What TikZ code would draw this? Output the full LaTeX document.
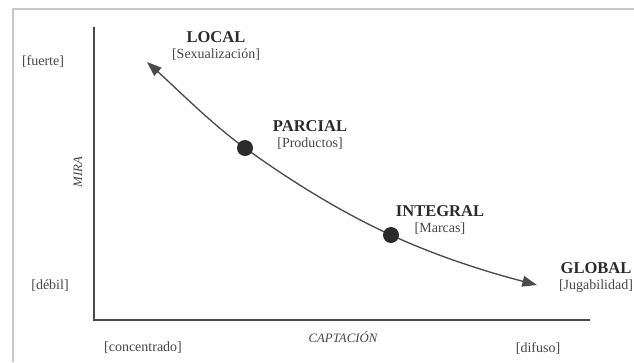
\documentclass[tikz,border=0pt]{standalone}
\usepackage{fontspec}
\setmainfont{Liberation Serif}
\usetikzlibrary{arrows.meta, positioning}
\definecolor{cdark}{HTML}{2B2B2B}
\definecolor{cline}{HTML}{4A4A4A}
\definecolor{ctext}{HTML}{454545}
\definecolor{cframe}{HTML}{C8C8C8}
\tikzset{
  every picture/.style={x=0.75pt, y=-0.75pt},
  lbl/.style={font=\fontsize{12.4}{14}\selectfont\bfseries, text=cdark, inner sep=1pt},
  sub/.style={font=\fontsize{10.5}{12}\selectfont, text=ctext, inner sep=1pt},
  axisname/.style={font=\fontsize{9.6}{11}\selectfont\itshape, text=ctext, inner sep=1pt},
  axis/.style={draw=cline, line width=1.8pt},
  curve/.style={{Triangle[length=11pt, width=8pt]}-{Triangle[length=11pt, width=8pt]}, draw=cline, line width=1pt},
  dot/.style={circle, fill=cdark, minimum size=12pt, inner sep=0pt},
}

\begin{document}
\begin{tikzpicture}
  \useasboundingbox (0,0) rectangle (634,362);
  % frame edges
  \coordinate (fa) at (13,362);
  \coordinate (fb) at (13,9);
  \coordinate (fc) at (634,9);
  \draw[cframe, line width=0.8pt] (fa) -- (fb) -- (fc);
  % axes
  \coordinate (ytop) at (94,27);
  \coordinate (orig) at (94,320);
  \coordinate (xend) at (590,320);
  \draw[axis] (ytop) -- (orig) -- (xend);
  \node[axisname, rotate=90] (mira) at (78,172) {MIRA};
  \node[axisname] (capt) at (343,337) {CAPTACIÓN};
  \node[sub] (fuerte) at (43,62) {[fuerte]};
  \node[sub] (debil) at (50,286) {[débil]};
  \node[sub] (conc) at (143,348) {[concentrado]};
  \node[sub] (difuso) at (538,348) {[difuso]};
  % curve through the two stages
  \coordinate (loctip) at (147,62);
  \coordinate (pdotc) at (245,148);
  \coordinate (idotc) at (391,235);
  \coordinate (globtip) at (537,285);
  \draw[curve] (loctip) .. controls (180,91.7) and (212,124.2) .. (pdotc)
    .. controls (293.7,183.1) and (342.3,212.6) .. (idotc)
    .. controls (439.7,257.4) and (488.3,272.3) .. (globtip);
  \node[dot] (pdot) at (pdotc) {};
  \node[dot] (idot) at (idotc) {};
  % labels
  \node[lbl] (local) at (216,37) {LOCAL};
  \node[sub, below=2pt of local] (sexual) {[Sexualización]};
  \node[lbl] (parcial) at (310,126) {PARCIAL};
  \node[sub, below=2pt of parcial] (prod) {[Productos]};
  \node[lbl] (integral) at (440,211) {INTEGRAL};
  \node[sub, below=2pt of integral] (marcas) {[Marcas]};
  \node[lbl] (global) at (596,268) {GLOBAL};
  \node[sub, below=2pt of global] (jugab) {[Jugabilidad]};
\end{tikzpicture}
\end{document}
